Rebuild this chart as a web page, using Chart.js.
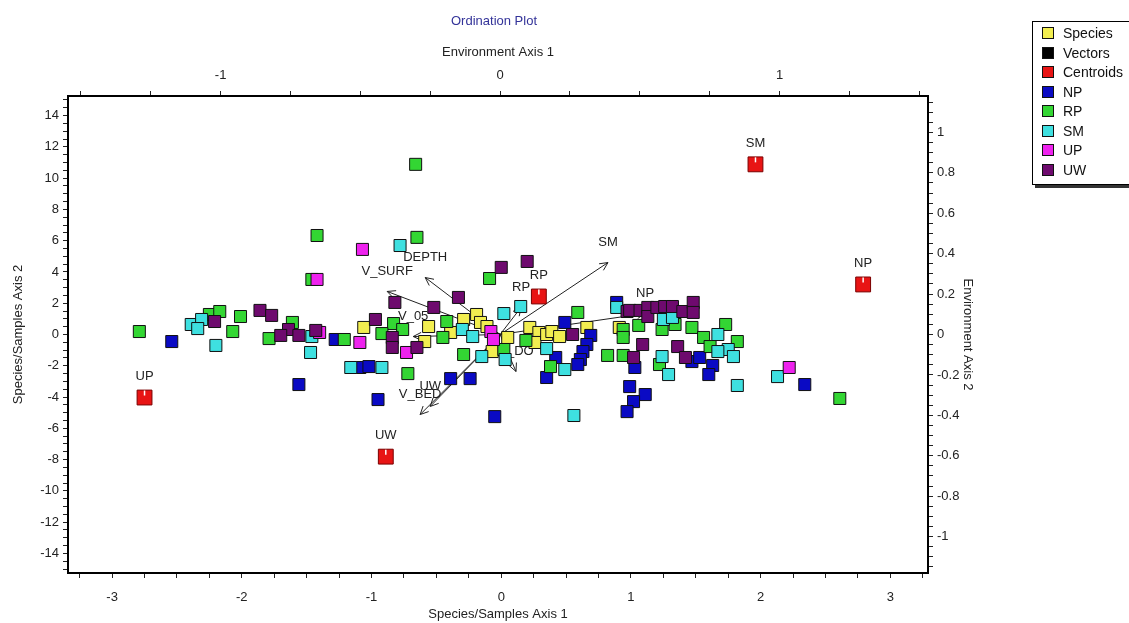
<!DOCTYPE html>
<html>
<head>
<meta charset="utf-8">
<title>Ordination Plot</title>
<script src="https://cdn.jsdelivr.net/npm/chart.js@4.4.1/dist/chart.umd.min.js"></script>
<style>
  html, body { margin: 0; padding: 0; background: #fff; overflow: hidden; }
  #wrap { position: relative; width: 1129px; height: 623px; overflow: hidden; }
  #legend { position: absolute; left: 1032px; top: 21px; width: 110px; height: 162px;
            border: 1px solid #000; box-shadow: 3px 3px 0 #333; background: #fff;
            font: 14px 'Liberation Sans', Arial, sans-serif; color: #111; }
  .row { position: absolute; left: 9px; height: 16px; line-height: 16px; white-space: nowrap; }
  .sw { display: inline-block; width: 10px; height: 10px; border: 1px solid #111;
        vertical-align: -1px; margin-right: 9px; }
</style>
</head>
<body>
<div id="wrap">
  <canvas id="ordChart" width="1129" height="623"></canvas>
  <div id="legend"></div>
</div>
<script>
// tick labels
const xTickLabels = [-3, -2, -1, 0, 1, 2, 3];
const x2TickLabels = [-1, 0, 1];
const yTickLabels = [-14, -12, -10, -8, -6, -4, -2, 0, 2, 4, 6, 8, 10, 12, 14];
const y2TickLabels = [-1, -0.8, -0.6, -0.4, -0.2, 0, 0.2, 0.4, 0.6, 0.8, 1];

// species scores
const speciesX = [-1.06, -0.59, -0.56, -0.39, -0.29, -0.19, -0.16, -0.11, -0.07, 0.05, 0.22, 0.29, 0.26, 0.35, 0.39, 0.45, 0.66, 0.91];
const speciesY = [0.45, -0.45, 0.51, 0.13, 0.96, 1.28, 0.77, 0.51, -1.09, -0.19, 0.45, 0.13, -0.51, 0, 0.19, -0.13, 0.45, 0.45];

// sample scores by group
const npX = [-2.54, -1.56, -1.28, -1.09, -1.02, -0.95, -0.39, -0.24, -0.05, 0.35, 0.42, 0.49, 0.69, 0.66, 0.63, 0.61, 0.59, 0.89, 1.03, 0.99, 1.11, 1.02, 0.97, 1.47, 1.53, 1.63, 1.6, 2.34];
const npY = [-0.45, -3.2, -0.32, -2.11, -2.05, -4.16, -2.82, -2.82, -5.25, -2.75, -1.47, 0.77, -0.06, -0.64, -1.09, -1.6, -1.92, 2.05, -2.11, -3.33, -3.84, -4.29, -4.93, -1.73, -1.47, -1.98, -2.56, -3.2];

const rpX = [-2.79, -2.25, -2.17, -2.01, -2.07, -1.61, -1.79, -1.42, -1.46, -1.21, -0.66, -0.65, -0.09, -0.83, -0.92, -0.76, -0.42, -0.45, -0.29, -0.72, 0.02, 0.19, 0.38, 0.59, 0.82, 0.94, 0.94, 0.94, 1.06, 1.24, 1.34, 1.47, 1.56, 1.73, 1.82, 1.61, 1.22, 2.61];
const rpY = [0.19, 1.28, 1.47, 1.15, 0.19, 0.77, -0.26, 6.33, 3.52, -0.32, 10.88, 6.21, 3.58, 0.7, 0.06, 0.32, 0.83, -0.19, -1.28, -2.5, -0.96, -0.38, -2.05, 1.41, -1.34, -1.34, 0.32, -0.19, 0.58, 0.32, 0.64, 0.45, -0.19, 0.64, -0.45, -0.77, -1.92, -4.09];

const smX = [-2.39, -2.31, -2.34, -2.2, -1.46, -1.47, -1.16, -0.92, -0.78, -0.3, -0.22, -0.15, 0.03, 0.02, 0.15, 0.35, 0.49, 0.56, 0.89, 1.25, 1.32, 1.24, 1.29, 1.67, 1.75, 1.67, 1.79, 1.82, 2.13];
const smY = [0.64, 0.96, 0.38, -0.7, -0.13, -1.15, -2.11, -2.11, 5.69, 0.32, -0.13, -1.41, -1.6, 1.34, 1.79, -0.9, -2.24, -5.18, 1.73, 0.96, 1.09, -1.41, -2.56, 0, -0.96, -1.09, -1.41, -3.26, -2.69];

const upX = [-1.4, -1.42, -1.07, -1.09, -0.73, -0.08, -0.06, 2.22];
const upY = [0.13, 3.52, 5.44, -0.51, -1.15, 0.19, -0.32, -2.11];

const uwX = [-2.21, -1.86, -1.77, -1.64, -1.7, -1.56, -1.43, -0.97, -0.82, -0.84, -0.84, -0.65, -0.52, -0.33, 0, 0.2, 0.55, 0.97, 0.99, 1.07, 1.13, 1.13, 1.2, 1.26, 1.32, 1.4, 1.48, 1.48, 1.09, 1.02, 1.36, 1.42];
const uwY = [0.83, 1.54, 1.22, 0.32, -0.06, -0.06, 0.26, 0.96, 2.05, -0.19, -0.83, -0.83, 1.73, 2.37, 4.29, 4.67, 0, 1.47, 1.54, 1.54, 1.73, 1.15, 1.73, 1.79, 1.79, 1.47, 2.05, 1.41, -0.64, -1.47, -0.77, -1.47];

// group centroids
const centroidNames = ['UP', 'UW', 'RP', 'SM', 'NP'];
const centroidX = [-2.75, -0.89, 0.29, 1.96, 2.79];
const centroidY = [-4.03, -7.81, 2.43, 10.88, 3.2];

// environmental vectors (environment axes)
const vectorNames = ['SM', 'DEPTH', 'V_SURF', 'V_05', 'UW', 'V_BED', 'RP', 'V_DO', 'NP'];
const vectorX = [0.386, -0.268, -0.404, -0.311, -0.25, -0.286, 0.075, 0.057, 0.519];
const vectorY = [0.356, 0.282, 0.213, -0.01, -0.356, -0.396, 0.134, -0.183, 0.104];

const FONT = "'Liberation Sans', Arial, sans-serif";
Chart.defaults.font.family = FONT;
Chart.defaults.font.size = 13;
Chart.defaults.color = '#222';

function tickSteps(min, max, step) {
  const out = [];
  for (let i = Math.ceil(min / step); i <= Math.floor(max / step); i++) {
    out.push({ value: Math.round(i * step * 1e6) / 1e6 });
  }
  return out;
}

function axis(pos, min, max, step, labels, size, pad, title, titlePad) {
  const horiz = pos === 'top' || pos === 'bottom';
  return {
    type: 'linear', position: pos, min: min, max: max,
    afterBuildTicks: s => { s.ticks = tickSteps(min, max, step); },
    afterFit: s => { if (horiz) s.height = size; else s.width = size; },
    ticks: {
      autoSkip: false, maxRotation: 0, color: '#222', padding: pad,
      callback: v => labels.includes(v) ? String(v) : ''
    },
    grid: { drawOnChartArea: false, drawTicks: true, tickLength: 5, color: '#222' },
    border: { display: true, color: '#000', width: 2 },
    title: { display: true, text: title, color: '#222', padding: titlePad }
  };
}

function group(label, xs, ys, color, order, r, border) {
  return {
    label: label,
    data: xs.map((v, i) => ({ x: v, y: ys[i] })),
    pointStyle: 'rect', pointRadius: r, pointHoverRadius: r,
    backgroundColor: color, borderColor: border || '#111', borderWidth: 1,
    order: order
  };
}

const vectorPlugin = {
  id: 'vectors',
  beforeDatasetsDraw(chart) {
    const { ctx, scales } = chart;
    const { x, y, x2, y2 } = scales;
    ctx.save();
    ctx.strokeStyle = '#222';
    ctx.fillStyle = '#222';
    ctx.lineWidth = 1;
    ctx.font = '13px ' + FONT;
    ctx.textAlign = 'center';
    ctx.textBaseline = 'middle';
    const ox = x2.getPixelForValue(0), oy = y2.getPixelForValue(0);
    vectorNames.forEach((name, i) => {
      const tx = x2.getPixelForValue(vectorX[i]);
      const ty = y2.getPixelForValue(vectorY[i]);
      const a = Math.atan2(ty - oy, tx - ox);
      ctx.beginPath();
      ctx.moveTo(ox, oy);
      ctx.lineTo(tx, ty);
      ctx.moveTo(tx - 9 * Math.cos(a - 0.45), ty - 9 * Math.sin(a - 0.45));
      ctx.lineTo(tx, ty);
      ctx.lineTo(tx - 9 * Math.cos(a + 0.45), ty - 9 * Math.sin(a + 0.45));
      ctx.stroke();
      ctx.fillText(name, tx, ty - 20);
    });
    centroidNames.forEach((name, i) => {
      ctx.fillText(name, x.getPixelForValue(centroidX[i]), y.getPixelForValue(centroidY[i]) - 21);
    });
    ctx.restore();
  },
  afterDatasetsDraw(chart) {
    // small white notch on top of each centroid marker
    const { ctx, scales: { x, y } } = chart;
    ctx.save();
    ctx.strokeStyle = '#fff';
    ctx.lineWidth = 1.5;
    centroidX.forEach((v, i) => {
      const px = x.getPixelForValue(v), py = y.getPixelForValue(centroidY[i]);
      ctx.beginPath();
      ctx.moveTo(px, py - 7);
      ctx.lineTo(px, py - 2);
      ctx.stroke();
    });
    ctx.restore();
  }
};

const ctx = document.getElementById('ordChart').getContext('2d');
new Chart(ctx, {
  type: 'scatter',
  data: {
    datasets: [
      group('Centroids', centroidX, centroidY, '#e81414', 0, 10.5, '#7a0000'),
      group('UW', uwX, uwY, '#6e0a6e', 1, 8.5),
      group('UP', upX, upY, '#ee22ee', 2, 8.5),
      group('SM', smX, smY, '#3ee0e0', 3, 8.5),
      group('RP', rpX, rpY, '#33d633', 4, 8.5),
      group('NP', npX, npY, '#0a0ac4', 5, 8.5),
      group('Species', speciesX, speciesY, '#f2ee50', 6, 8.5)
    ]
  },
  options: {
    responsive: false,
    animation: false,
    layout: { padding: { left: 0, right: 141, top: 0, bottom: 0 } },
    plugins: {
      legend: { display: false },
      tooltip: { enabled: false },
      title: { display: true, text: 'Ordination Plot', color: '#333399',
               font: { size: 13, weight: 'normal' }, padding: { top: 13.2, bottom: 0 } }
    },
    scales: {
      x: axis('bottom', -3.34, 3.29, 0.25, xTickLabels, 50, 11.2, 'Species/Samples Axis 1', { top: 0, bottom: 1.2 }),
      x2: axis('top', -1.546, 1.531, 0.25, x2TickLabels, 67.2, 8.2, 'Environment Axis 1', { top: 15.4, bottom: 0 }),
      y: axis('left', -15.25, 15.25, 0.5, yTickLabels, 68, 4, 'Species/Samples Axis 2', { top: 10.2, bottom: 0 }),
      y2: axis('right', -1.18, 1.18, 0.05, y2TickLabels, 60, 4, 'Environment Axis 2', { top: 12.2, bottom: 0 })
    }
  },
  plugins: [vectorPlugin]
});

// legend
const legendNames = ['Species', 'Vectors', 'Centroids', 'NP', 'RP', 'SM', 'UP', 'UW'];
const legendColors = ['#f2ee50', '#000000', '#e81414', '#0a0ac4', '#33d633', '#3ee0e0', '#ee22ee', '#6e0a6e'];
const legend = document.getElementById('legend');
legendNames.forEach((name, i) => {
  const row = document.createElement('div');
  row.className = 'row';
  row.style.top = (3 + 19.5 * i) + 'px';
  const sw = document.createElement('span');
  sw.className = 'sw';
  sw.style.background = legendColors[i];
  row.appendChild(sw);
  row.appendChild(document.createTextNode(name));
  legend.appendChild(row);
});
</script>
</body>
</html>
